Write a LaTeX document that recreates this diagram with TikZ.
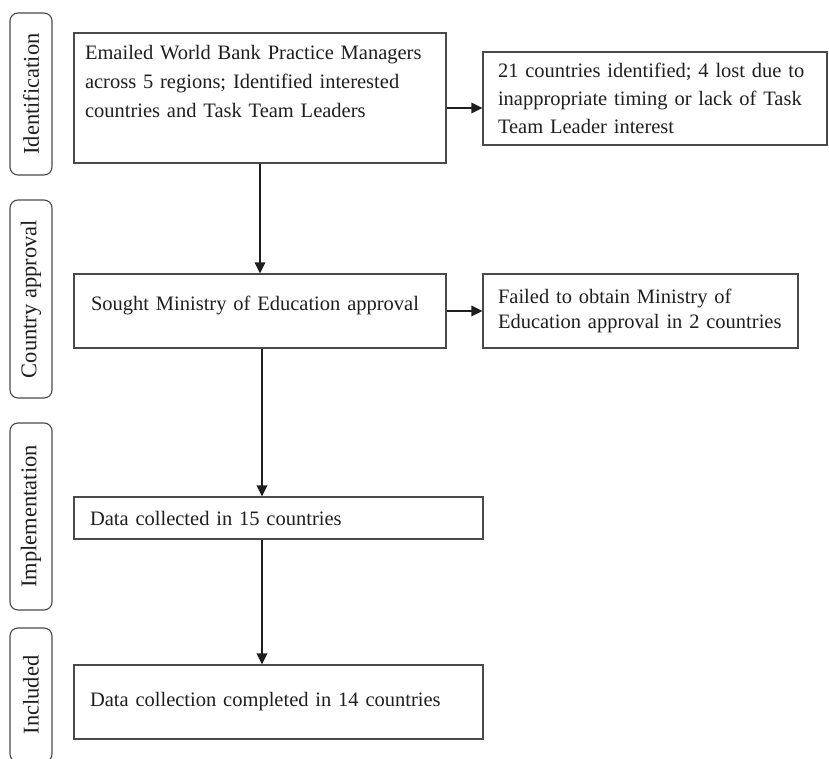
\documentclass[tikz,border=0pt]{standalone}
\usepackage{fontspec}
\setmainfont{Liberation Serif}
\usetikzlibrary{arrows.meta}
\definecolor{boxline}{HTML}{4A4A4A}
\definecolor{ink}{HTML}{1E1E1E}
\tikzset{
  base/.style={draw=boxline, line width=1.1pt, text=ink, inner ysep=0pt,
    font=\fontsize{20.5}{28}\selectfont},
  mainbox/.style={base, rectangle, align=left},
  sidebox/.style={base, rectangle, rounded corners=8pt, rotate=90,
    minimum height=42pt, inner xsep=0pt, font=\fontsize{22.5}{28}\selectfont},
  arr/.style={draw=ink, line width=1.8pt, -{Triangle[length=11pt,width=10.5pt]}}
}
\begin{document}
\begin{tikzpicture}[x=1pt,y=-1pt]
\useasboundingbox (0,0) rectangle (829,759);
\begin{scope}
\clip (0,0) rectangle (829,759);
% side stage labels
\node[sidebox, minimum width=162pt] (s1) at (31,94) {Identification};
\node[sidebox, minimum width=198pt] (s2) at (31,299) {Country approval};
\node[sidebox, minimum width=187pt] (s3) at (31,516.5) {Implementation};
\node[sidebox, minimum width=134pt] (s4) at (31,695) {Included};

% main boxes
\node[mainbox, minimum width=372pt, minimum height=130pt, inner xsep=11pt,
  text width=350pt, font=\fontsize{20.5}{29}\selectfont] (b1) at (260,98)
  {Emailed World Bank Practice Managers\\across 5 regions; Identified interested\\countries and Task Team Leaders\\[4pt]\mbox{}};
\node[mainbox, minimum width=344pt, minimum height=93pt, inner xsep=15pt,
  text width=314pt] (r1) at (655,98.5)
  {21 countries identified; 4 lost due to\\inappropriate timing or lack of Task\\Team Leader interest};
\node[mainbox, minimum width=372pt, minimum height=74pt, inner xsep=17pt,
  text width=338pt] (b2) at (260,311)
  {Sought Ministry of Education approval\\[-12pt]\mbox{}};
\node[mainbox, minimum width=315pt, minimum height=74pt, inner xsep=15pt,
  text width=285pt, font=\fontsize{20.5}{25}\selectfont] (r2) at (640.5,311)
  {\mbox{Failed to obtain Ministry of}\\\mbox{Education approval in 2 countries}};
\node[mainbox, minimum width=409pt, minimum height=42pt, inner xsep=16pt,
  text width=377pt] (b3) at (278.5,518)
  {Data collected in 15 countries};
\node[mainbox, minimum width=409pt, minimum height=74pt, inner xsep=16pt,
  text width=377pt] (b4) at (278.5,702)
  {Data collection completed in 14 countries};
\end{scope}

% connectors
\coordinate (h1) at (0,108);
\coordinate (v2) at (262,0);
\draw[arr] (b1.south) -- (b2.north);
\draw[arr] (b1.east |- h1) -- (r1.west |- h1);
\draw[arr] (b2.east) -- (r2.west);
\draw[arr] (b2.south -| v2) -- (b3.north -| v2);
\draw[arr] (b3.south -| v2) -- (b4.north -| v2);
\end{tikzpicture}
\end{document}
